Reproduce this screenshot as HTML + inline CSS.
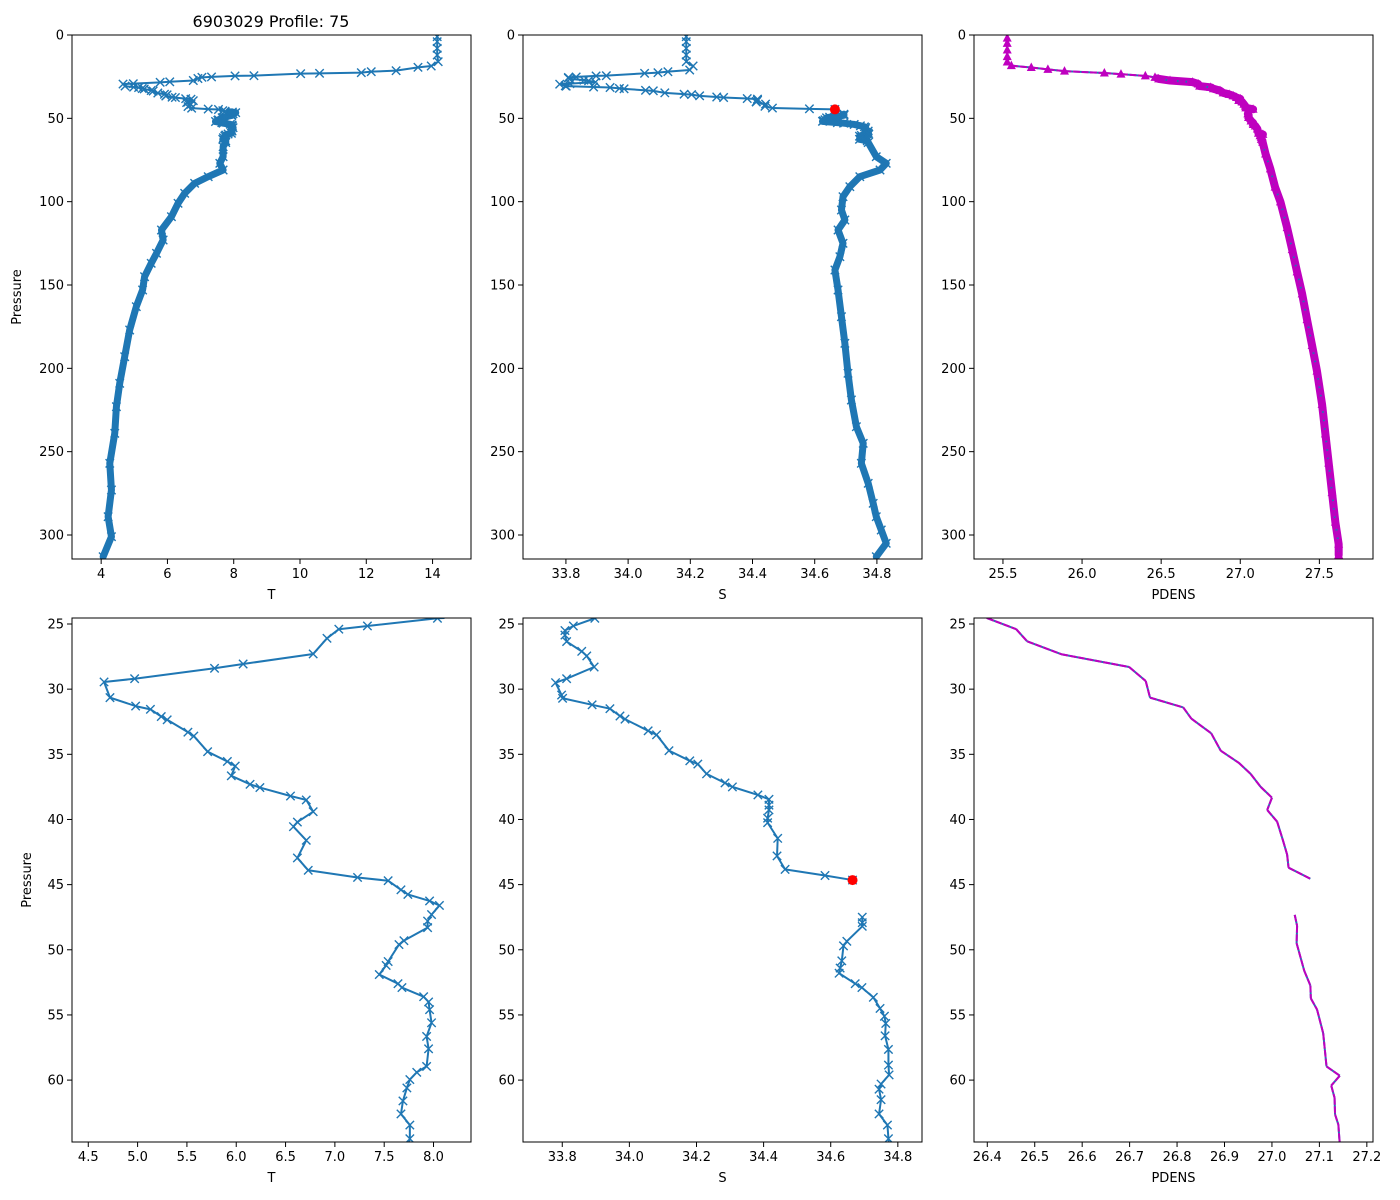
<!DOCTYPE html>
<html><head><meta charset="utf-8"><title>6903029 Profile: 75</title>
<style>
html,body{margin:0;padding:0;background:#fff;width:1400px;height:1200px;overflow:hidden;}
svg{display:block;font-family:"DejaVu Sans","Liberation Sans",sans-serif;}
</style></head>
<body>
<svg id="fig" width="1400" height="1200" viewBox="0 0 1400 1200" xmlns="http://www.w3.org/2000/svg">
<rect width="1400" height="1200" fill="#fff"/>
<text x="271" y="27" font-size="16" text-anchor="middle">6903029 Profile: 75</text>
</svg>
<script>
// ---- Temperature data ----
const tempSurfP = [1,4,8,12,16,18.6,19.4,21.4,22,22.6,23,23.2,24.4];
const tempSurfV = [14.14,14.14,14.14,14.14,14.17,13.96,13.56,12.9,12.15,11.85,10.59,10.02,8.61];
const tempMidP = [24.56,25.15,25.4,26.1,27.3,28.07,28.4,29.2,29.45,30.65,31.3,31.55,32.1,32.35,33.3,33.6,34.8,35.55,35.9,36.65,37.3,37.55,38.2,38.5,39.4,40.2,40.55,41.6,42.95,43.9,44.45,44.7,45.4,45.75,46.25,46.6,47.3,47.8,48.3,49.3,49.6,50.9,51.2,51.9,52.6,52.9,53.6,54.0,54.6,55.6,56.65,57.6,58.95,59.4,59.96,60.6,61.6,62.6,63.45,64.5];
const tempMidV = [8.04,7.33,7.04,6.92,6.78,6.07,5.78,4.97,4.66,4.72,4.98,5.13,5.24,5.3,5.51,5.57,5.71,5.91,5.99,5.95,6.14,6.24,6.55,6.71,6.78,6.62,6.58,6.71,6.62,6.73,7.23,7.54,7.67,7.74,7.96,8.06,7.98,7.94,7.94,7.70,7.65,7.54,7.52,7.45,7.64,7.68,7.90,7.95,7.96,7.98,7.93,7.95,7.93,7.83,7.76,7.73,7.69,7.67,7.76,7.76];
const tempDeepP = [67,73,77,81,85,89,95,101,109,117,123,131,137,145,153,163,177,193,209,223,239,257,273,289,301,313];
const tempDeepV = [7.68,7.68,7.58,7.68,7.23,6.82,6.52,6.32,6.12,5.82,5.87,5.67,5.51,5.31,5.25,5.06,4.86,4.71,4.56,4.46,4.41,4.26,4.31,4.21,4.31,4.06];
// ---- Salinity data ----
const salSurfP = [1,4,8,12,16,18.6,21,22,22.6,23,24.4];
const salSurfV = [34.187,34.187,34.187,34.187,34.187,34.209,34.198,34.128,34.096,34.053,33.93];
const salMidP = [24.56,25.15,25.5,25.85,26.35,27.1,27.45,28.3,29.2,29.5,30.45,30.7,31.2,31.5,32.06,32.3,33.2,33.5,34.72,35.5,35.75,36.5,37.2,37.5,38.12,38.45,38.9,39.27,39.9,40.25,41.45,42.8,43.83,44.3,44.65,46,47.5,47.92,48.2,49.35,49.7,50.85,51.4,51.8,52.6,52.9,53.65,54.5,55.1,55.65,56.6,57.65,58.85,59.6,60.3,60.7,61.5,62.6,63.45,64.5];
const salMidV = [33.897,33.833,33.808,33.808,33.813,33.858,33.873,33.895,33.813,33.78,33.798,33.801,33.889,33.942,33.972,33.987,34.056,34.081,34.118,34.18,34.204,34.23,34.285,34.307,34.383,34.416,34.416,34.416,34.412,34.412,34.442,34.44,34.464,34.583,34.665,null,34.694,34.694,34.694,34.648,34.638,34.633,34.628,34.625,34.673,34.693,34.727,34.747,34.76,34.764,34.762,34.772,34.772,34.774,34.75,34.744,34.75,34.744,34.769,34.772];
const salDeepP = [73,77,81,85,91,97,105,111,117,125,133,141,153,169,185,203,219,235,245,257,269,281,289,297,305,313];
const salDeepV = [34.798,34.83,34.81,34.745,34.713,34.691,34.686,34.697,34.675,34.691,34.681,34.665,34.675,34.686,34.697,34.707,34.718,34.734,34.756,34.75,34.772,34.788,34.798,34.814,34.83,34.798];
const flagP = [44.65];
const flagS = [34.665];
// ---- Potential density data ----
const pdSurfP = [1.9,5,9,13,16.2,18.4,19.5,20.6,21.7,22.8,23.5];
const pdSurfV = [25.527,25.527,25.527,25.527,25.527,25.553,25.679,25.784,25.889,26.141,26.246];
const pdMidP = [24.55,25.4,26.33,27.32,28.3,29.38,30.65,31.4,32.26,33.39,34.72,35.65,36.5,37.49,38.33,39.27,40.17,41.58,42.7,43.7,44.55,46,47.32,48.16,49.5,51.6,52.74,53.73,54.58,56.4,58.95,59.66,60.42,61.36,62.63,63.42,64.46];
const pdMidV = [26.40,26.461,26.484,26.556,26.699,26.734,26.743,26.813,26.83,26.872,26.892,26.93,26.955,26.976,27.0,26.99,27.011,27.023,27.032,27.035,27.081,null,27.048,27.053,27.052,27.068,27.081,27.082,27.095,27.108,27.115,27.143,27.125,27.132,27.133,27.14,27.142];
const pdDeepP = [71.4,80.3,91.3,100.1,115.6,128.8,142.1,155.3,170.8,186.3,201.7,221.6,239.3,256.9,274.6,292.3,305.5,312.1];
const pdDeepV = [27.16,27.19,27.22,27.254,27.296,27.328,27.359,27.391,27.422,27.454,27.485,27.517,27.538,27.559,27.58,27.601,27.622,27.622];
// ---- Tick labels ----
const topPTicks = [0,50,100,150,200,250,300];
const botPTicks = [25,30,35,40,45,50,55,60];
const topTTicks = [4,6,8,10,12,14];
const botTTicks = [4.5,5.0,5.5,6.0,6.5,7.0,7.5,8.0];
const sTicks = [33.8,34.0,34.2,34.4,34.6,34.8];
const topPDTicks = [25.5,26.0,26.5,27.0,27.5];
const botPDTicks = [26.4,26.5,26.6,26.7,26.8,26.9,27.0,27.1,27.2];

const tempP = tempSurfP.concat(tempMidP, tempDeepP);
const tempV = tempSurfV.concat(tempMidV, tempDeepV);
const salP = salSurfP.concat(salMidP, salDeepP);
const salV = salSurfV.concat(salMidV, salDeepV);
const pdP = pdSurfP.concat(pdMidP, pdDeepP);
const pdV = pdSurfV.concat(pdMidV, pdDeepV);

const NS = 'http://www.w3.org/2000/svg';
const svg = document.getElementById('fig');
function mk(tag, attrs, parent){
  const e = document.createElementNS(NS, tag);
  for (const k in attrs) e.setAttribute(k, attrs[k]);
  (parent||svg).appendChild(e);
  return e;
}
let clipId = 0;
function panel(name, x0, y0, w, h, xmin, xmax, ymin, ymax, xticks, yticks, xdec, xlabel, ylabel, ylabelX){
  const g = mk('g', {});
  
  
  const sx = v => x0 + (v - xmin) / (xmax - xmin) * w;
  const sy = v => y0 + (v - ymin) / (ymax - ymin) * h;
  const id = 'clip' + (clipId++);
  const cp = mk('clipPath', {id: id}, g);
  mk('rect', {x: x0, y: y0, width: w, height: h}, cp);
  const plot = mk('g', {'clip-path': 'url(#' + id + ')'}, g);
  
  
  xticks.forEach(t => {
    const x = sx(t);
    mk('line', {x1: x, x2: x, y1: y0 + h, y2: y0 + h + 5, stroke: '#000', 'stroke-width': 1}, g);
    const tx = mk('text', {x: x, y: y0 + h + 19, 'font-size': 13, 'text-anchor': 'middle'}, g);
    
    
    tx.textContent = t.toFixed(xdec);
  });
  yticks.forEach(t => {
    const y = sy(t);
    mk('line', {x1: x0 - 5, x2: x0, y1: y, y2: y, stroke: '#000', 'stroke-width': 1}, g);
    const ty = mk('text', {x: x0 - 8, y: y + 4.5, 'font-size': 13, 'text-anchor': 'end'}, g);
    
    
    ty.textContent = String(t);
  });
  const xl = mk('text', {x: x0 + w / 2, y: y0 + h + 40, 'font-size': 13, 'text-anchor': 'middle'}, g);
  
  
  xl.textContent = xlabel;
  if (ylabel){
    const cy = y0 + h / 2;
    const yl = mk('text', {x: ylabelX, y: cy, 'font-size': 13, 'text-anchor': 'middle', transform: 'rotate(-90 ' + ylabelX + ' ' + cy + ')'}, g);
    
    
    yl.textContent = ylabel;
  }
  return {g: g, plot: plot, sx: sx, sy: sy, pmin: ymin, pmax: ymax, frame: () => {
    const f = mk('rect', {x: x0, y: y0, width: w, height: h, fill: 'none', stroke: '#000', 'stroke-width': 1}, g);
    
    
  }};
}
// Builds a path, cutting segments exactly at the panel's pressure limits
function pathD(ax, P, V, minP){
  const lo = Math.max(ax.pmin, minP), hi = ax.pmax;
  let d = '', last = null;
  const pt = (p, v, move) => { d += (move ? 'M' : 'L') + ax.sx(v).toFixed(2) + ' ' + ax.sy(p).toFixed(2); };
  for (let i = 0; i < P.length; i++){
    if (V[i] === null){ last = null; continue; }
    const cur = [P[i], V[i]];
    if (last){
      let [p0, v0] = last, [p1, v1] = cur;
      if (!((p0 < lo && p1 < lo) || (p0 > hi && p1 > hi))){
        const at = p => v0 + (v1 - v0) * (p - p0) / (p1 - p0);
        let sp = p0, sv = v0, ep = p1, ev = v1;
        if (sp < lo){ sv = at(lo); sp = lo; } else if (sp > hi){ sv = at(hi); sp = hi; }
        if (ep < lo){ ev = at(lo); ep = lo; } else if (ep > hi){ ev = at(hi); ep = hi; }
        pt(sp, sv, true); pt(ep, ev, false);
      }
    }
    last = cur;
  }
  return d;
}
function inRange(ax, p){ return p >= ax.pmin && p <= ax.pmax; }
function drawXSeries(ax, P, V, color, band, bandMin){
  if (band){
    const b = mk('path', {d: pathD(ax, P, V, bandMin), fill: 'none', stroke: color, 'stroke-width': band, 'stroke-linejoin': 'round', 'stroke-linecap': 'round'}, ax.plot);
    
    
  }
  const l = mk('path', {d: pathD(ax, P, V, -1e9), fill: 'none', stroke: color, 'stroke-width': 2, 'stroke-linejoin': 'round'}, ax.plot);
  
  
  for (let i = 0; i < P.length; i++){
    if (V[i] === null || !inRange(ax, P[i])) continue;
    const x = ax.sx(V[i]), y = ax.sy(P[i]), r = 4.2;
    const m = mk('path', {d: `M${x-r} ${y-r}L${x+r} ${y+r}M${x-r} ${y+r}L${x+r} ${y-r}`, stroke: color, 'stroke-width': 1.4, fill: 'none'}, ax.plot);
    
    
  }
}
function drawFlag(ax){
  for (let i = 0; i < flagP.length; i++){
    if (!inRange(ax, flagP[i])) continue;
    const c = mk('circle', {cx: ax.sx(flagS[i]), cy: ax.sy(flagP[i]), r: 5, fill: '#ff0000'}, ax.plot);
    
    
  }
}
function drawPD(ax, markers, band, bandMin){
  if (band){
    const b = mk('path', {d: pathD(ax, pdP, pdV, bandMin), fill: 'none', stroke: '#bf00bf', 'stroke-width': band, 'stroke-linejoin': 'round', 'stroke-linecap': 'round'}, ax.plot);
    
    
  }
  const d = pathD(ax, pdP, pdV, -1e9);
  const l1 = mk('path', {d: d, fill: 'none', stroke: '#1f77b4', 'stroke-width': 2}, ax.plot);
  
  
  const l2 = mk('path', {d: d, fill: 'none', stroke: '#bf00bf', 'stroke-width': 2, 'stroke-dasharray': '7 1.5'}, ax.plot);
  
  
  if (markers){
    for (let i = 0; i < pdP.length; i++){
      if (pdV[i] === null || !inRange(ax, pdP[i])) continue;
      const x = ax.sx(pdV[i]), y = ax.sy(pdP[i]);
      const t = mk('path', {d: `M${x} ${y-5}L${x+4.5} ${y+3.5}L${x-4.5} ${y+3.5}Z`, fill: '#bf00bf'}, ax.plot);
      
      
    }
  }
}
const C = '#1f77b4';
// Top row
const aT = panel('temperature-panel-full', 72, 35, 399, 524, 3.12, 15.16, 0, 314.4, topTTicks, topPTicks, 0, 'T', 'Pressure', 21);
drawXSeries(aT, tempP, tempV, C, 7, 46); aT.frame();
const aS = panel('salinity-panel-full', 523, 35, 399, 524, 33.662, 34.945, 0, 314.4, sTicks, topPTicks, 1, 'S', null, 0);
drawXSeries(aS, salP, salV, C, 7, 47); drawFlag(aS); aS.frame();
const aD = panel('pdens-panel-full', 974, 35, 399, 524, 25.317, 27.839, 0, 314.4, topPDTicks, topPTicks, 1, 'PDENS', null, 0);
drawPD(aD, true, 8, 26); aD.frame();
// Bottom row (zoom 25-65 dbar)
const bT = panel('temperature-panel-zoom', 72, 618, 399, 524, 4.335, 8.38, 24.54, 64.75, botTTicks, botPTicks, 1, 'T', 'Pressure', 31);
drawXSeries(bT, tempP, tempV, C, 0, 0); bT.frame();
const bS = panel('salinity-panel-zoom', 523, 618, 399, 524, 33.683, 34.872, 24.54, 64.75, sTicks, botPTicks, 1, 'S', null, 0);
drawXSeries(bS, salP, salV, C, 0, 0); drawFlag(bS); bS.frame();
const bD = panel('pdens-panel-zoom', 974, 618, 399, 524, 26.372, 27.213, 24.54, 64.75, botPDTicks, botPTicks, 1, 'PDENS', null, 0);
drawPD(bD, false, 0, 0); bD.frame();
</script>
</body></html>
